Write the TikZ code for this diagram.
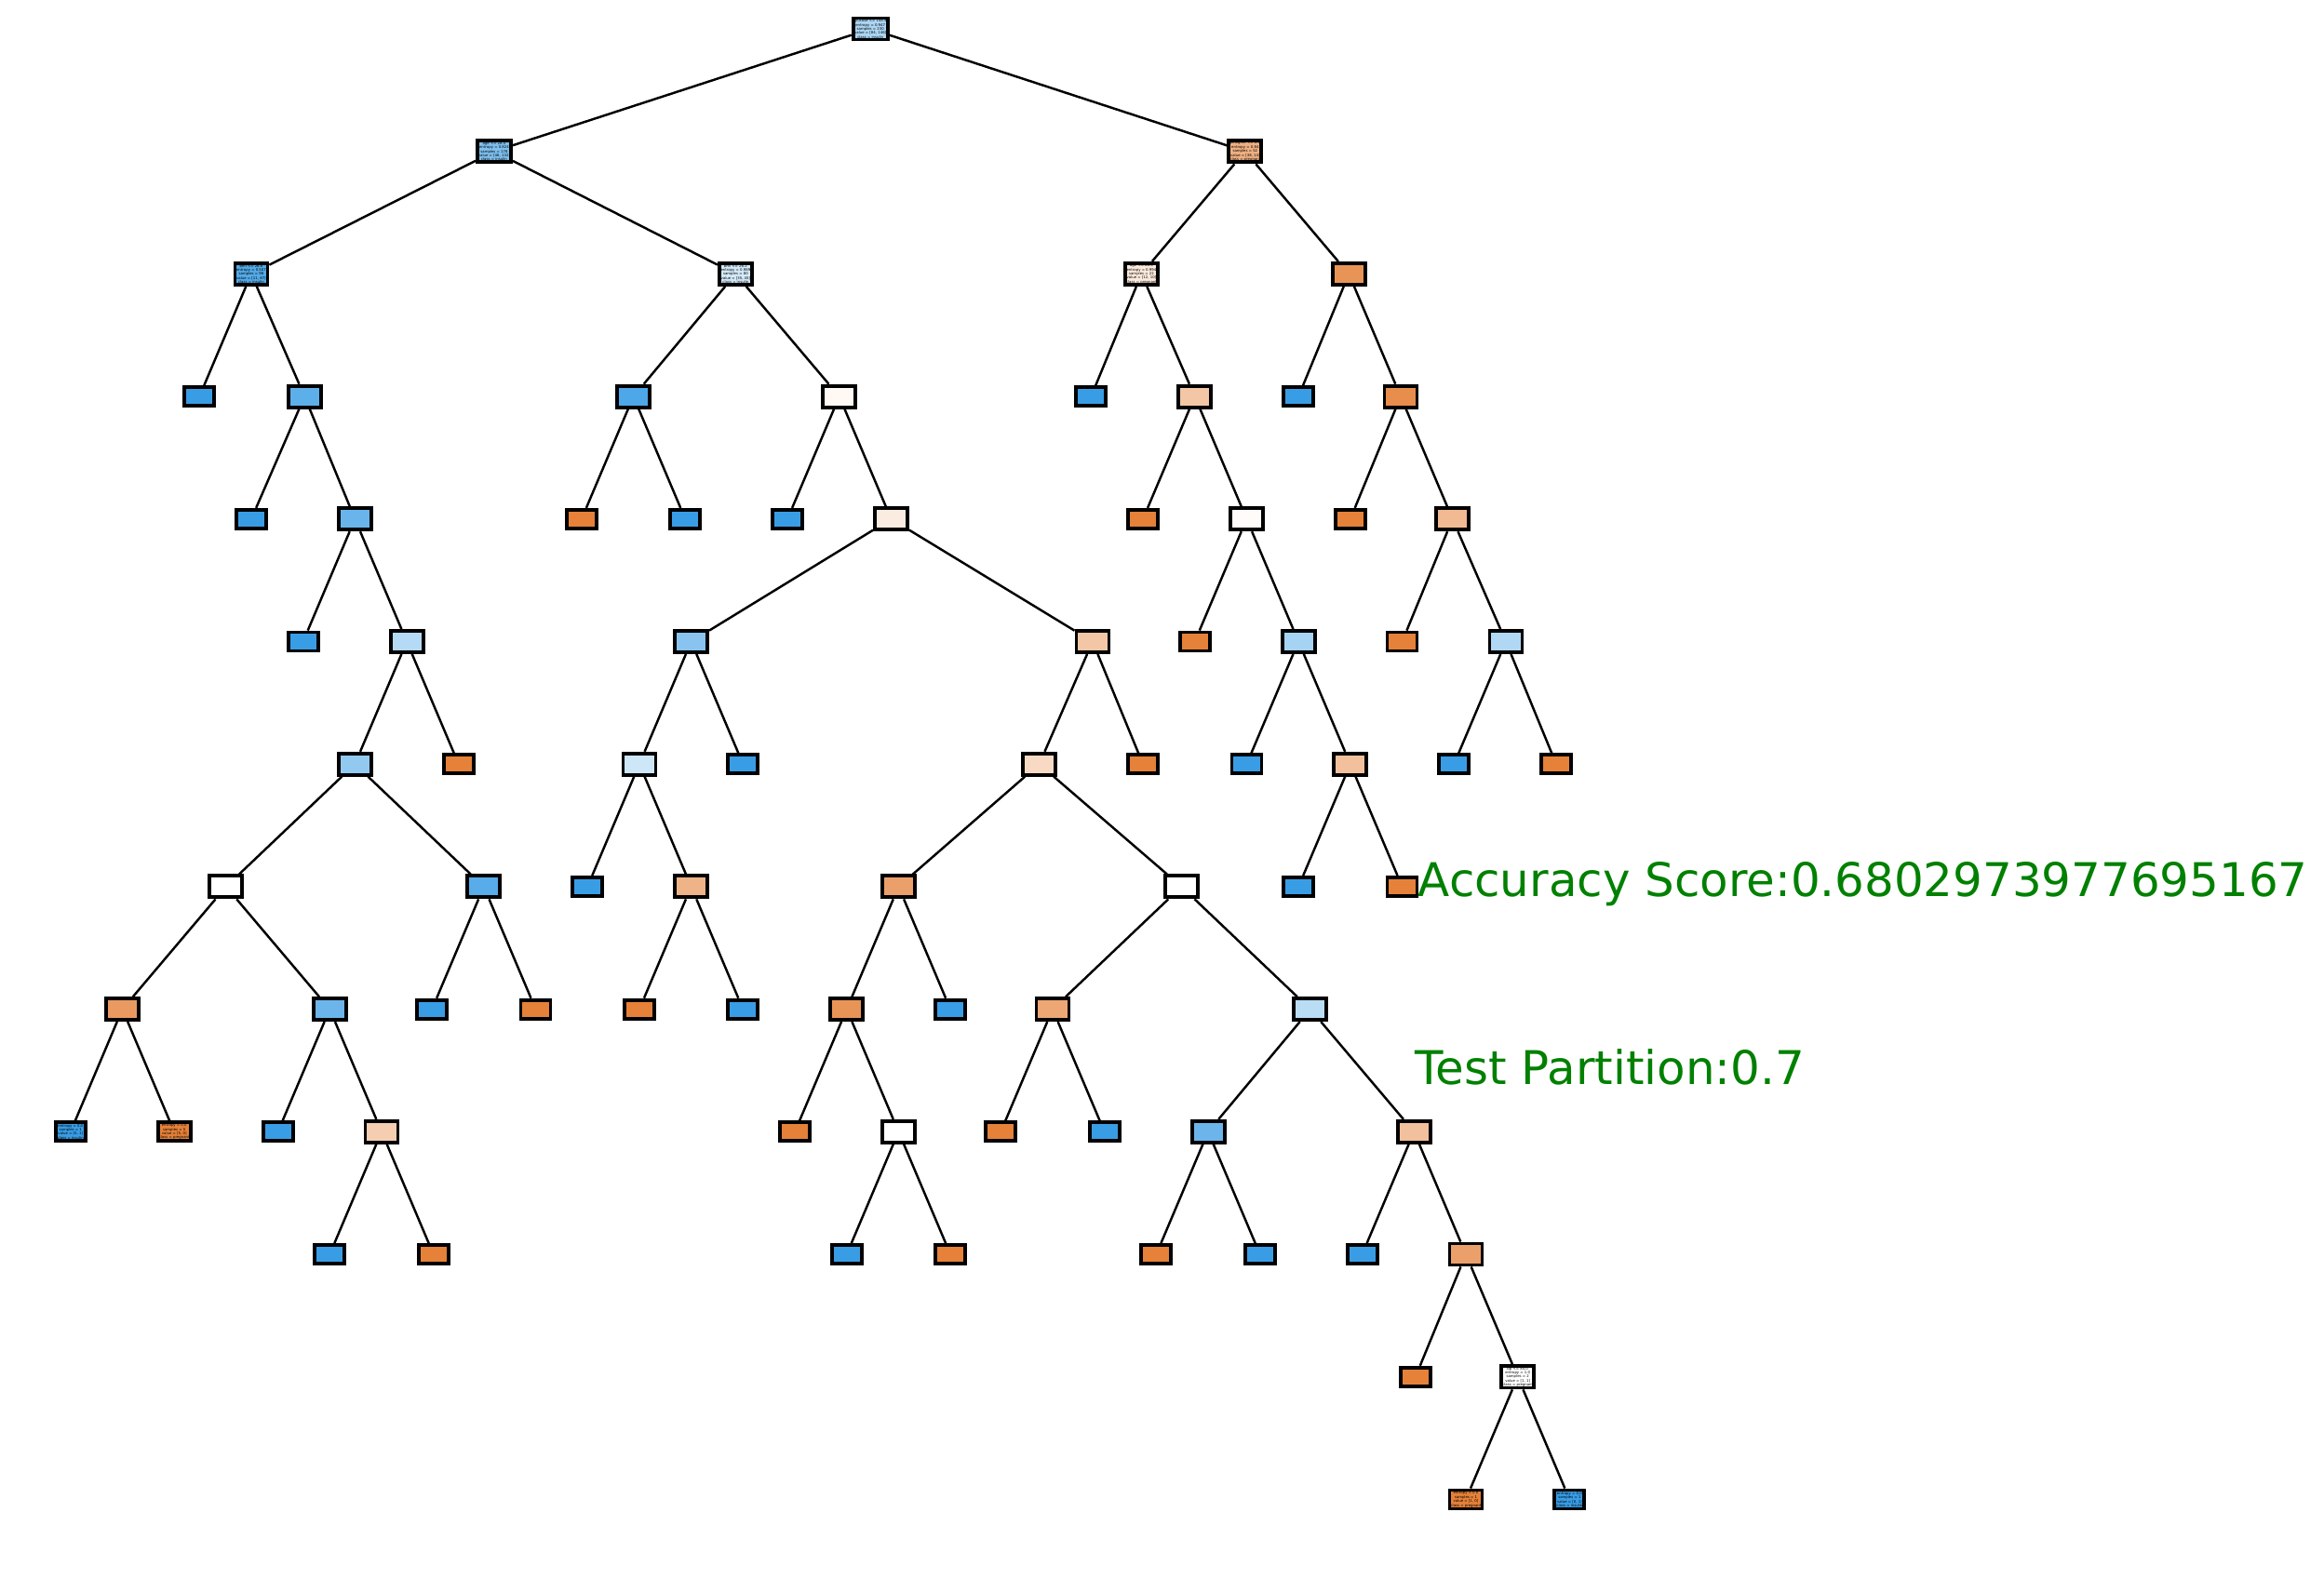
\documentclass[tikz,border=0pt]{standalone}
\usepackage{fontspec}
\newfontfamily\treefont{DejaVu Sans}
\definecolor{pregcol}{HTML}{E58139}
\definecolor{inscol}{HTML}{399DE5}
\definecolor{scoregreen}{HTML}{008000}

\begin{document}
\begin{tikzpicture}[
    tnode/.style={draw, line width=1.1pt, inner sep=0.3pt, align=center,
      minimum width=0.35cm, minimum height=0.23cm,
      font={\treefont\fontsize{1.1}{1.25}\selectfont}},
    leafnode/.style={tnode, minimum width=0.32cm, minimum height=0.2cm},
    edge/.style={line width=0.7pt}
  ]
  \useasboundingbox (0,0) rectangle (24.97cm,-16.96cm);
  \begin{scope}[shift={(0.01cm,-0.31cm)}, x=0.01592cm, y=-1.317cm]
  % level 0 and 1
  \node[tnode, fill=inscol!42!white] (n0) at (587,0) {glucose <= 145.5\\entropy = 0.947\\samples = 230\\value = [84, 146]\\class = insulin};
  \node[tnode, fill=inscol!65!white] (n1) at (333,1) {age <= 28.5\\entropy = 0.824\\samples = 178\\value = [46, 132]\\class = insulin};
  \node[tnode, fill=pregcol!63!white] (n62) at (840,1) {pedigree <= 0.5\\entropy = 0.84\\samples = 52\\value = [38, 14]\\class = pregnant};
  % left branch
  \node[tnode, fill=inscol!87!white] (n2) at (169,2) {bmi <= 26.8\\entropy = 0.507\\samples = 98\\value = [11, 87]\\class = insulin};
  \node[leafnode, fill=inscol] (n3) at (134,3) {};
  \node[tnode, fill=inscol!82!white] (n4) at (205,3) {};
  \node[leafnode, fill=inscol] (n5) at (169,4) {};
  \node[tnode, fill=inscol!76!white] (n6) at (239,4) {};
  \node[leafnode, fill=inscol] (n7) at (204,5) {};
  \node[tnode, fill=inscol!38!white] (n8) at (274,5) {};
  \node[tnode, fill=inscol!55!white] (n9) at (239,6) {};
  \node[tnode, fill=white] (n10) at (152,7) {};
  \node[tnode, fill=pregcol!80!white] (n11) at (82,8) {};
  \node[leafnode, fill=inscol] (n12) at (47,9) {entropy = 0.0\\samples = 1\\value = [0, 1]\\class = insulin};
  \node[leafnode, fill=pregcol] (n13) at (117,9) {entropy = 0.0\\samples = 5\\value = [5, 0]\\class = pregnant};
  \node[tnode, fill=inscol!75!white] (n14) at (222,8) {};
  \node[leafnode, fill=inscol] (n15) at (187,9) {};
  \node[tnode, fill=pregcol!40!white] (n16) at (257,9) {};
  \node[leafnode, fill=inscol] (n17) at (222,10) {};
  \node[leafnode, fill=pregcol] (n18) at (292,10) {};
  \node[tnode, fill=inscol!85!white] (n19) at (326,7) {};
  \node[leafnode, fill=inscol] (n20) at (291,8) {};
  \node[leafnode, fill=pregcol] (n21) at (361,8) {};
  \node[leafnode, fill=pregcol] (n22) at (309,6) {};
  % middle branch
  \node[tnode, fill=inscol!22!white] (n23) at (496,2) {bmi <= 26.2\\entropy = 0.989\\samples = 80\\value = [35, 45]\\class = insulin};
  \node[tnode, fill=inscol!90!white] (n24) at (427,3) {};
  \node[leafnode, fill=pregcol] (n25) at (392,4) {};
  \node[leafnode, fill=inscol] (n26) at (462,4) {};
  \node[tnode, fill=pregcol!5!white] (n27) at (566,3) {};
  \node[leafnode, fill=inscol] (n28) at (531,4) {};
  \node[tnode, fill=pregcol!15!white] (n29) at (601,4) {};
  \node[tnode, fill=inscol!60!white] (n30) at (466,5) {};
  \node[tnode, fill=inscol!25!white] (n31) at (431,6) {};
  \node[leafnode, fill=inscol] (n32) at (396,7) {};
  \node[tnode, fill=pregcol!60!white] (n33) at (466,7) {};
  \node[leafnode, fill=pregcol] (n34) at (431,8) {};
  \node[leafnode, fill=inscol] (n35) at (501,8) {};
  \node[leafnode, fill=inscol] (n36) at (501,6) {};
  \node[tnode, fill=pregcol!45!white] (n37) at (737,5) {};
  \node[tnode, fill=pregcol!30!white] (n38) at (701,6) {};
  \node[tnode, fill=pregcol!75!white] (n39) at (606,7) {};
  \node[tnode, fill=pregcol!85!white] (n40) at (571,8) {};
  \node[leafnode, fill=pregcol] (n41) at (536,9) {};
  \node[tnode, fill=white] (n42) at (606,9) {};
  \node[leafnode, fill=inscol] (n43) at (571,10) {};
  \node[leafnode, fill=pregcol] (n44) at (641,10) {};
  \node[leafnode, fill=inscol] (n45) at (641,8) {};
  \node[tnode, fill=white] (n46) at (797,7) {};
  \node[tnode, fill=pregcol!70!white] (n47) at (710,8) {};
  \node[leafnode, fill=pregcol] (n48) at (675,9) {};
  \node[leafnode, fill=inscol] (n49) at (745,9) {};
  \node[tnode, fill=inscol!35!white] (n50) at (884,8) {};
  \node[tnode, fill=inscol!75!white] (n51) at (815,9) {};
  \node[leafnode, fill=pregcol] (n52) at (780,10) {};
  \node[leafnode, fill=inscol] (n53) at (850,10) {};
  \node[tnode, fill=pregcol!50!white] (n54) at (954,9) {};
  \node[leafnode, fill=inscol] (n55) at (919,10) {};
  \node[tnode, fill=pregcol!75!white] (n56) at (989,10) {};
  \node[leafnode, fill=pregcol] (n57) at (955,11) {};
  \node[tnode, fill=white] (n58) at (1024,11) {bp <= 85.0\\entropy = 1.0\\samples = 2\\value = [1, 1]\\class = pregnant};
  \node[leafnode, fill=pregcol] (n59) at (989,12) {entropy = 0.0\\samples = 1\\value = [1, 0]\\class = pregnant};
  \node[leafnode, fill=inscol] (n60) at (1059,12) {entropy = 0.0\\samples = 1\\value = [0, 1]\\class = insulin};
  \node[leafnode, fill=pregcol] (n61) at (771,6) {};
  % right branch
  \node[tnode, fill=pregcol!17!white] (n63) at (770,2) {age <= 28.5\\entropy = 0.994\\samples = 22\\value = [12, 10]\\class = pregnant};
  \node[leafnode, fill=inscol] (n64) at (736,3) {};
  \node[tnode, fill=pregcol!45!white] (n65) at (806,3) {};
  \node[leafnode, fill=pregcol] (n66) at (771,4) {};
  \node[tnode, fill=pregcol!3!white] (n67) at (841,4) {};
  \node[leafnode, fill=pregcol] (n68) at (806,5) {};
  \node[tnode, fill=inscol!45!white] (n69) at (876,5) {};
  \node[leafnode, fill=inscol] (n70) at (841,6) {};
  \node[tnode, fill=pregcol!50!white] (n71) at (911,6) {};
  \node[leafnode, fill=inscol] (n72) at (876,7) {};
  \node[leafnode, fill=pregcol] (n73) at (946,7) {};
  \node[tnode, fill=pregcol!85!white] (n74) at (910,2) {};
  \node[leafnode, fill=inscol] (n75) at (876,3) {};
  \node[tnode, fill=pregcol!90!white] (n76) at (945,3) {};
  \node[leafnode, fill=pregcol] (n77) at (911,4) {};
  \node[tnode, fill=pregcol!55!white] (n78) at (980,4) {};
  \node[leafnode, fill=pregcol] (n79) at (946,5) {};
  \node[tnode, fill=inscol!40!white] (n80) at (1016,5) {};
  \node[leafnode, fill=inscol] (n81) at (981,6) {};
  \node[leafnode, fill=pregcol] (n82) at (1050,6) {};
  % connectors
  \foreach \a/\b in {n0/n1, n0/n62, n1/n2, n1/n23, n2/n3, n2/n4, n4/n5, n4/n6,
      n6/n7, n6/n8, n8/n9, n8/n22, n9/n10, n9/n19, n10/n11, n10/n14,
      n11/n12, n11/n13, n14/n15, n14/n16, n16/n17, n16/n18, n19/n20, n19/n21,
      n23/n24, n23/n27, n24/n25, n24/n26, n27/n28, n27/n29, n29/n30, n29/n37,
      n30/n31, n30/n36, n31/n32, n31/n33, n33/n34, n33/n35, n37/n38, n37/n61,
      n38/n39, n38/n46, n39/n40, n39/n45, n40/n41, n40/n42, n42/n43, n42/n44,
      n46/n47, n46/n50, n47/n48, n47/n49, n50/n51, n50/n54, n51/n52, n51/n53,
      n54/n55, n54/n56, n56/n57, n56/n58, n58/n59, n58/n60,
      n62/n63, n62/n74, n63/n64, n63/n65, n65/n66, n65/n67, n67/n68, n67/n69,
      n69/n70, n69/n71, n71/n72, n71/n73, n74/n75, n74/n76, n76/n77, n76/n78,
      n78/n79, n78/n80, n80/n81, n80/n82}
    \draw[edge] (\a) -- (\b);
  \end{scope}
  % scores
  \node[anchor=base west, inner sep=0pt, text=scoregreen, font={\treefont\fontsize{14.2}{17}\selectfont}] (acc) at (15.23cm,-9.63cm) {Accuracy Score:0.6802973977695167};
  \node[anchor=base west, inner sep=0pt, text=scoregreen, font={\treefont\fontsize{14.2}{17}\selectfont}] (part) at (15.20cm,-11.65cm) {Test Partition:0.7};
\end{tikzpicture}
\end{document}
